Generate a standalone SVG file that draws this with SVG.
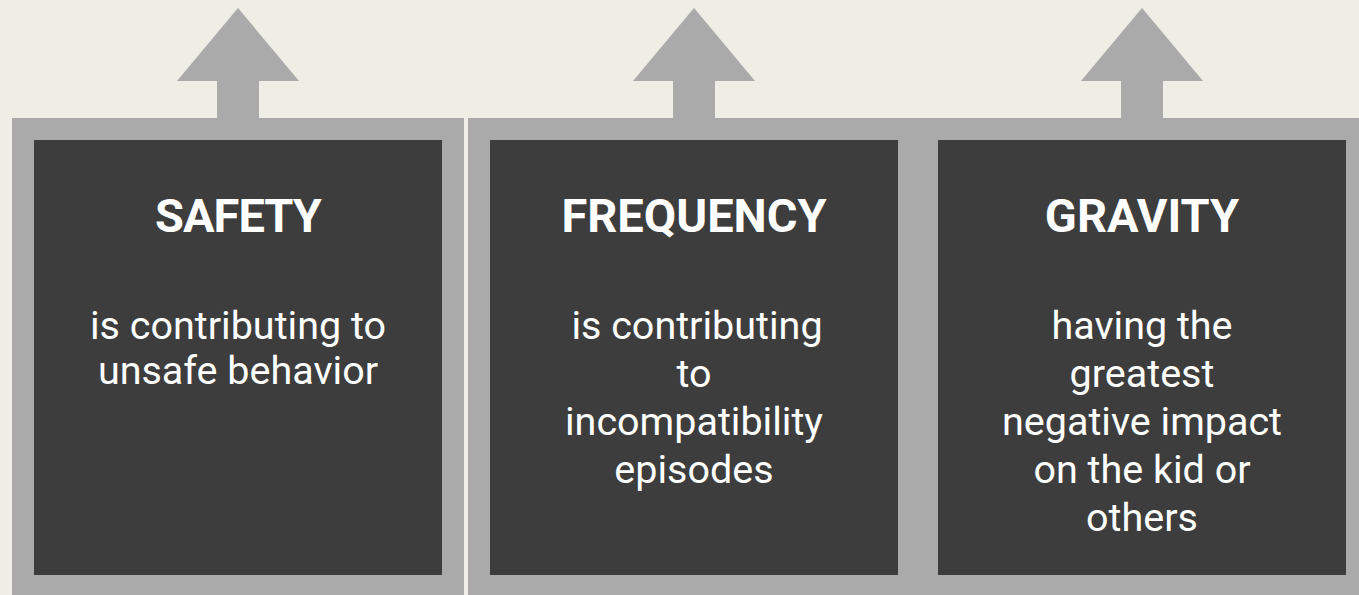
<svg xmlns="http://www.w3.org/2000/svg" width="1359" height="595" viewBox="0 0 1359 595">
  <defs>
    <style>
      .bg { fill: #EEEDE6; }
      .frame { fill: #AAAAAA; }
      .panel { fill: #3D3D3D; }
      .arrow { fill: #AAAAAA; }
      .title { font-family: Roboto, "Liberation Sans", sans-serif; font-weight: bold; font-size: 47px; fill: #FFFFFF; text-anchor: middle; }
      .body { font-family: Roboto, "Liberation Sans", sans-serif; font-size: 39.5px; fill: #FFFFFF; text-anchor: middle; }
    </style>
  </defs>

  <rect class="bg" x="0" y="0" width="1359" height="595"/>

  <!-- upward arrows above each column -->
  <g id="connectors">
    <polygon class="arrow" points="238,8 299,81 259,81 259,119 217,119 217,81 177,81"/>
    <polygon class="arrow" points="694,8 755,81 715,81 715,119 673,119 673,81 633,81"/>
    <polygon class="arrow" points="1142,8 1203,81 1163,81 1163,119 1121,119 1121,81 1081,81"/>
  </g>

  <g id="node-safety">
    <rect class="frame" x="12" y="118" width="452" height="490"/>
    <rect class="panel" x="34" y="140" width="408" height="435"/>
    <text class="title" x="238" y="232" letter-spacing="-1">SAFETY</text>
    <text class="body" x="238" y="339">is contributing to</text>
    <text class="body" x="238" y="384">unsafe behavior</text>
  </g>

  <g id="node-frequency">
    <rect class="frame" x="468" y="118" width="460" height="490"/>
    <rect class="panel" x="490" y="140" width="408" height="435"/>
    <text class="title" x="694" y="232">FREQUENCY</text>
    <text class="body" x="697" y="339">is contributing</text>
    <text class="body" x="694" y="387">to</text>
    <text class="body" x="694" y="435">incompatibility</text>
    <text class="body" x="694" y="483">episodes</text>
  </g>

  <g id="node-gravity">
    <rect class="frame" x="916" y="118" width="460" height="490"/>
    <rect class="panel" x="938" y="140" width="408" height="435"/>
    <text class="title" x="1142" y="232">GRAVITY</text>
    <text class="body" x="1142" y="339">having the</text>
    <text class="body" x="1142" y="387">greatest</text>
    <text class="body" x="1142" y="435">negative impact</text>
    <text class="body" x="1142" y="483">on the kid or</text>
    <text class="body" x="1142" y="531">others</text>
  </g>
</svg>
